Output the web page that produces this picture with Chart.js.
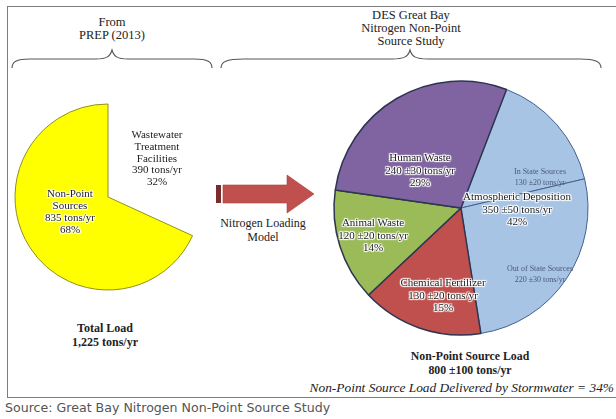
<!DOCTYPE html>
<html>
<head>
<meta charset="utf-8">
<script src="https://cdn.jsdelivr.net/npm/chart.js@4/dist/chart.umd.min.js"></script>
<style>
  body { margin: 0; background: #fff; }
  #wrap { position: relative; width: 616px; height: 419px; overflow: hidden; font-family: "Liberation Serif", "Times New Roman", serif; color: #222; }
  #frame { position: absolute; left: 7px; top: 6px; width: 640px; height: 392px; border: 1.5px solid #7d7d7d; border-right: none; box-sizing: border-box; }
  canvas { position: absolute; }
  svg { position: absolute; left: 0; top: 0; }
  .lbl { position: absolute; transform: translate(-50%, -50%); text-align: center; white-space: nowrap; }
  .halo { text-shadow: 1px 0 1px #fff, -1px 0 1px #fff, 0 1px 1px #fff, 0 -1px 1px #fff, 1px 1px 1px #fff, -1px -1px 1px #fff, 1px -1px 1px #fff, -1px 1px 1px #fff; }
  .small { font-size: 8px; line-height: 11px; color: #4a5a78; }
  .bold { font-weight: bold; }
  #source { position: absolute; left: 5px; top: 400px; font-family: "DejaVu Sans", Verdana, sans-serif; font-size: 12.6px; color: #555; white-space: nowrap; }
</style>
</head>
<body>
<div id="wrap">
  <div id="frame"></div>

  <svg width="616" height="419">
    <!-- curly braces over the two pies -->
    <path d="M12,68 C12,62 16,59 30,59 L96,59 C106,59 110,57 112,50 C114,57 118,59 128,59 L194,59 C208,59 212,62 212,68"
          fill="none" stroke="#555" stroke-width="1.1"/>
    <path d="M221,68 C221,62 226,59 244,59 L392,59 C404,59 408,57 410,50 C412,57 416,59 428,59 L580,59 C596,59 601,62 601,68"
          fill="none" stroke="#555" stroke-width="1.1"/>
    <!-- arrow -->
    <rect x="216" y="185" width="5" height="18" fill="#7b2b2b"/>
    <polygon points="223,185 287,185 287,175 314,194 287,213 287,203 223,203" fill="#c0504d" stroke="#a8413e" stroke-width="0.6"/>
  </svg>

  <canvas id="prepPie" width="200" height="200" style="left:8px; top:97px; width:200px; height:200px;"></canvas>
  <canvas id="desPie" width="270" height="270" style="left:326px; top:73px; width:270px; height:270px;"></canvas>

  <div id="labels"></div>
  <div id="source">Source: Great Bay Nitrogen Non-Point Source Study</div>
</div>

<script>
// PREP (2013) split of total nitrogen load, tons/yr
const prepLabels = ['Wastewater Treatment Facilities', 'Non-Point Sources'];
const prepLoads = [390, 835];
const prepPercent = [32, 68];

// DES non-point source breakdown, tons/yr (atmospheric split into in/out of state)
const desLabels = ['In State Sources', 'Out of State Sources', 'Chemical Fertilizer', 'Animal Waste', 'Human Waste'];
const desLoads = [130, 220, 130, 120, 240];
const desError = [20, 30, 20, 20, 30];
const atmLoad = 350, atmError = 50;
const desPercent = { atm: 42, fert: 15, animal: 14, human: 29 };

const totalLoad = 1225;
const npsLoad = 800, npsError = 100;
const stormwaterShare = 34;

const fmt = n => n.toLocaleString('en-US');

const baseOpts = {
  responsive: false,
  animation: false,
  events: [],
  layout: { padding: 0 },
  plugins: { legend: { display: false }, tooltip: { enabled: false } }
};

new Chart(document.getElementById('prepPie'), {
  type: 'pie',
  data: {
    labels: prepLabels,
    datasets: [{
      data: prepLoads,
      backgroundColor: ['rgba(0,0,0,0)', '#ffff00'],
      borderColor: ['rgba(0,0,0,0)', '#8f8f1f'],
      borderWidth: [0, 1]
    }]
  },
  options: Object.assign({ radius: 93, rotation: 0 }, baseOpts)
});

new Chart(document.getElementById('desPie'), {
  type: 'pie',
  data: {
    labels: desLabels,
    datasets: [{
      data: desLoads,
      backgroundColor: ['#a7c4e5', '#a7c4e5', '#c0504d', '#9bbb59', '#8064a2'],
      borderColor: ['#43618f', '#43618f', '#2e3550', '#2e3550', '#2e3550'],
      borderWidth: [1, 1, 1.5, 1.5, 1.5]
    }]
  },
  options: Object.assign({ radius: 127, rotation: 21 }, baseOpts)
});

// text blocks: [x, y, lineHeight, fontSize, class, lines]
const blocks = [
  [112, 29, 13, 12.5, '', ['From', 'PREP (2013)']],
  [411, 28, 13, 12.5, '', ['DES Great Bay', 'Nitrogen Non-Point', 'Source Study']],
  [157, 158, 11.8, 11, '', ['Wastewater', 'Treatment', 'Facilities', prepLoads[0] + ' tons/yr', prepPercent[0] + '%']],
  [70, 211, 12, 11, 'halo', ['Non-Point', 'Sources', prepLoads[1] + ' tons/yr', prepPercent[1] + '%']],
  [105, 335, 13.5, 12, 'bold', ['Total Load', fmt(totalLoad) + ' tons/yr']],
  [263, 230, 14, 12, '', ['Nitrogen Loading', 'Model']],
  [420, 170, 12.5, 11, 'halo', ['Human Waste', desLoads[4] + ' \u00b1' + desError[4] + ' tons/yr', desPercent.human + '%']],
  [540, 177, 11, 8, 'small', [desLabels[0], desLoads[0] + ' \u00b1' + desError[0] + ' tons/yr']],
  [517, 209, 12.5, 11, 'halo', ['Atmospheric Deposition', atmLoad + ' \u00b1' + atmError + ' tons/yr', desPercent.atm + '%']],
  [540, 274, 11, 8, 'small', [desLabels[1], desLoads[1] + ' \u00b1' + desError[1] + ' tons/yr']],
  [373, 235, 12.5, 11, 'halo', ['Animal Waste', desLoads[3] + ' \u00b1' + desError[3] + ' tons/yr', desPercent.animal + '%']],
  [443, 295, 12.5, 11, 'halo', ['Chemical Fertilizer', desLoads[2] + ' \u00b1' + desError[2] + ' tons/yr', desPercent.fert + '%']],
  [470, 363, 14, 11.8, 'bold', ['Non-Point Source Load', npsLoad + ' \u00b1' + npsError + ' tons/yr']]
];

const host = document.getElementById('labels');
blocks.forEach(([x, y, lh, fs, cls, lines]) => {
  const d = document.createElement('div');
  d.className = 'lbl ' + cls;
  d.style.left = x + 'px';
  d.style.top = y + 'px';
  d.style.fontSize = fs + 'px';
  d.style.lineHeight = lh + 'px';
  d.innerHTML = lines.join('<br>');
  host.appendChild(d);
});

const note = document.createElement('div');
note.style.cssText = 'position:absolute; right:2px; top:380px; font-style:italic; font-size:13.4px; white-space:nowrap;';
note.textContent = 'Non-Point Source Load Delivered by Stormwater = ' + stormwaterShare + '%';
host.appendChild(note);
</script>
</body>
</html>
